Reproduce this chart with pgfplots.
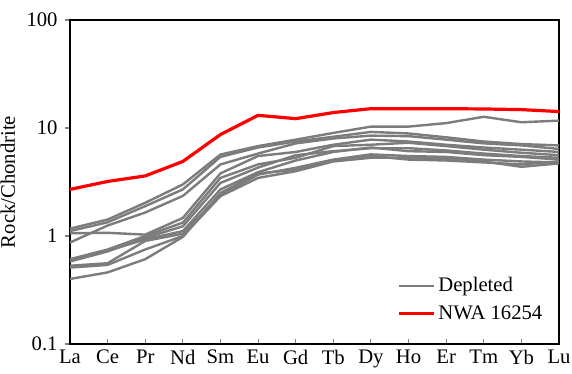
\documentclass[border=0pt]{standalone}
\usepackage{pgfplots}
\pgfplotsset{compat=1.18}
\usepackage{fontspec}
\setmainfont{Liberation Serif}
\definecolor{dgray}{RGB}{125,123,123}
\definecolor{nred}{RGB}{255,0,0}
\begin{document}
\rmfamily\fontsize{15.5}{18}\selectfont
\begin{tikzpicture}
\begin{axis}[
  scale only axis, width=366.75pt, height=243pt,
  ymode=log, ymin=0.1, ymax=100,
  xmin=0, xmax=13,
  xtick={0,...,13},
  xticklabels={La,Ce,Pr,Nd,Sm,Eu,Gd,Tb,Dy,Ho,Er,Tm,Yb,Lu},
  ytick={0.1,1,10,100}, yticklabels={0.1,1,10,100},
  yminorticks=false,
  xtick pos=bottom, ytick pos=left,
  x tick style={line width=0.8pt}, y tick style={line width=0.8pt},
  xtick align=inside, ytick align=outside,
  major tick length=4pt,
  axis line style={line width=0.9pt},
  tick label style={font=\rmfamily\fontsize{15.5}{18}\selectfont},
  /pgf/number format/assume math mode=true,
  xticklabel style={yshift=1pt},
  ylabel={Rock/Chondrite},
  label style={font=\rmfamily\fontsize{15.5}{18}\selectfont},
  ylabel style={yshift=-2pt},
  legend style={draw=none, fill=none, at={(0.98,0.05)}, anchor=south east,
    font=\rmfamily\fontsize{15.5}{18}\selectfont, row sep=4pt},
  legend cell align=left,
  legend image code/.code={\draw[#1] (0pt,0pt) -- (26pt,0pt);},
  every axis plot/.append style={line join=round},
]
\addplot[dgray, line width=1.8pt] coordinates {(0,1.17)(1,1.42)(2,2.03)(3,3.0)(4,5.68)(5,6.8)(6,7.8)(7,9.0)(8,10.3)(9,10.3)(10,11.1)(11,12.7)(12,11.3)(13,11.7)};
\addlegendentry{Depleted}
\addplot[dgray, line width=1.8pt, forget plot] coordinates {(0,1.11)(1,1.34)(2,1.89)(3,2.7)(4,5.4)(5,6.6)(6,7.5)(7,8.3)(8,9.2)(9,8.9)(10,8.2)(11,7.5)(12,7.1)(13,6.9)};
\addplot[dgray, line width=1.8pt, forget plot] coordinates {(0,0.87)(1,1.25)(2,1.65)(3,2.35)(4,4.6)(5,5.8)(6,7.2)(7,8.0)(8,8.5)(9,8.4)(10,7.8)(11,7.2)(12,6.9)(13,6.4)};
\addplot[dgray, line width=1.8pt, forget plot] coordinates {(0,1.06)(1,1.07)(2,1.03)(3,1.47)(4,3.8)(5,5.5)(6,6.0)(7,7.0)(8,7.8)(9,7.5)(10,7.0)(11,6.6)(12,6.3)(13,6.0)};
\addplot[dgray, line width=1.8pt, forget plot] coordinates {(0,0.61)(1,0.75)(2,1.0)(3,1.33)(4,3.45)(5,4.6)(6,5.3)(7,6.8)(8,7.0)(9,7.3)(10,6.8)(11,6.3)(12,5.9)(13,5.6)};
\addplot[dgray, line width=1.8pt, forget plot] coordinates {(0,0.58)(1,0.72)(2,0.96)(3,1.23)(4,3.1)(5,4.3)(6,5.6)(7,6.1)(8,6.5)(9,6.5)(10,6.2)(11,5.8)(12,5.5)(13,5.3)};
\addplot[dgray, line width=1.8pt, forget plot] coordinates {(0,0.60)(1,0.73)(2,0.93)(3,1.11)(4,2.7)(5,3.9)(6,5.0)(7,6.0)(8,6.6)(9,6.1)(10,6.0)(11,5.6)(12,5.4)(13,5.1)};
\addplot[dgray, line width=1.8pt, forget plot] coordinates {(0,0.53)(1,0.56)(2,0.9)(3,1.05)(4,2.42)(5,3.7)(6,4.28)(7,5.1)(8,5.7)(9,5.5)(10,5.4)(11,5.1)(12,4.9)(13,4.8)};
\addplot[dgray, line width=1.8pt, forget plot] coordinates {(0,0.51)(1,0.54)(2,0.75)(3,1.0)(4,2.34)(5,3.45)(6,3.98)(7,4.9)(8,5.3)(9,5.3)(10,5.2)(11,4.9)(12,4.37)(13,4.7)};
\addplot[dgray, line width=1.8pt, forget plot] coordinates {(0,0.40)(1,0.46)(2,0.61)(3,0.98)(4,2.5)(5,3.8)(6,4.1)(7,5.0)(8,5.5)(9,5.1)(10,5.0)(11,4.8)(12,4.6)(13,4.9)};
\addplot[nred, line width=2.4pt] coordinates {(0,2.7)(1,3.2)(2,3.6)(3,4.9)(4,8.7)(5,13.1)(6,12.2)(7,13.9)(8,15.1)(9,15.1)(10,15.1)(11,15.0)(12,14.8)(13,14.2)};
\addlegendentry{NWA 16254}
\end{axis}
\pgfresetboundingbox
\useasboundingbox ([shift={(-52.5pt,-22.5pt)}]current axis.south west) rectangle ([shift={(9.75pt,15pt)}]current axis.north east);
\end{tikzpicture}
\end{document}
